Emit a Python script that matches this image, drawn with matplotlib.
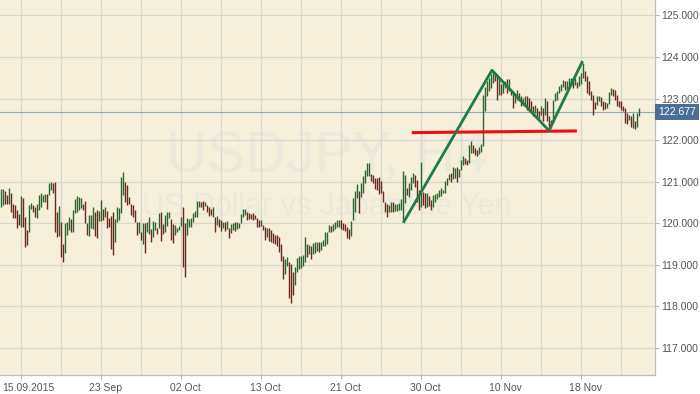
import numpy as np
import matplotlib.pyplot as plt
import matplotlib.transforms as mtransforms

# H4 bars (high / low per bar)
highs = [
    120.82, 120.82, 120.78, 120.68, 120.85, 120.73, 120.47, 120.44, 120.31, 120.22,
    120.66, 120.62, 120.16, 119.84, 120.43, 120.49, 120.44, 120.40, 120.46, 120.69,
    120.73, 120.69, 120.70, 120.71, 120.97, 120.99, 120.98, 120.99, 120.26, 120.42,
    120.02, 119.51, 120.01, 120.03, 120.16, 120.10, 120.31, 120.59, 120.65, 120.63,
    120.60, 120.46, 120.54, 120.01, 120.19, 120.19, 120.39, 120.28, 120.32, 120.30,
    120.56, 120.34, 120.39, 120.29, 120.13, 120.18, 120.27, 120.11, 120.39, 120.37,
    121.12, 121.23, 120.99, 120.93, 120.63, 120.47, 120.43, 120.31, 120.03, 120.04,
    119.78, 120.01, 120.01, 120.04, 120.16, 119.87, 120.05, 120.04, 119.89, 120.25,
    120.26, 119.99, 120.19, 120.27, 120.27, 120.11, 119.98, 119.96, 119.89, 119.94,
    120.16, 120.39, 120.01, 120.13, 120.10, 120.12, 120.24, 120.30, 120.54, 120.54,
    120.50, 120.53, 120.51, 120.43, 120.39, 120.35, 120.39, 120.16, 120.17, 120.10,
    120.07, 120.04, 120.02, 120.05, 119.89, 119.99, 120.00, 120.02, 120.03, 120.00,
    120.23, 120.35, 120.34, 120.26, 120.24, 120.22, 120.24, 120.20, 120.13, 120.07,
    120.09, 119.96, 119.90, 119.88, 119.88, 119.84, 119.77, 119.73, 119.73, 119.66,
    119.50, 119.22, 119.15, 119.18, 119.07, 119.02, 118.82, 118.95, 119.17, 119.21,
    119.21, 119.23, 119.67, 119.51, 119.48, 119.45, 119.53, 119.54, 119.56, 119.56,
    119.55, 119.59, 119.80, 119.78, 119.96, 119.94, 119.99, 120.04, 120.09, 120.08,
    120.08, 120.00, 119.98, 119.92, 119.86, 120.06, 120.60, 120.77, 120.94, 120.78,
    120.97, 121.14, 121.27, 121.46, 121.46, 121.18, 121.16, 121.08, 121.10, 121.12,
    121.01, 120.78, 120.52, 120.47, 120.43, 120.52, 120.50, 120.46, 120.46, 120.48,
    120.58, 121.26, 121.16, 120.84, 120.96, 121.12, 121.20, 121.16, 121.04, 120.80,
    121.48, 120.76, 120.72, 120.74, 120.66, 120.56, 120.68, 120.70, 120.74, 120.80,
    120.84, 120.80, 121.02, 121.10, 121.18, 121.22, 121.36, 121.34, 121.36, 121.30,
    121.52, 121.62, 121.56, 121.52, 121.88, 121.98, 121.88, 121.80, 121.76, 121.84,
    121.90, 123.09, 123.27, 123.42, 123.50, 123.58, 123.68, 123.62, 123.58, 123.46,
    123.34, 123.38, 123.42, 123.46, 123.47, 123.21, 123.17, 123.09, 123.21, 123.13,
    123.05, 123.01, 123.05, 123.05, 123.01, 122.93, 122.81, 122.85, 122.77, 122.69,
    122.81, 122.77, 123.01, 122.93, 122.57, 122.49, 122.97, 123.13, 123.17, 123.30,
    123.36, 123.44, 123.42, 123.42, 123.50, 123.50, 123.46, 123.50, 123.40, 123.54,
    123.62, 123.85, 123.66, 123.54, 123.42, 123.17, 123.09, 122.91, 123.05, 123.05,
    123.03, 122.93, 122.91, 122.89, 123.15, 123.25, 123.24, 123.21, 123.09, 122.93,
    122.95, 122.81, 122.78, 122.66, 122.61, 122.57, 122.65, 122.46, 122.65, 122.77,
]
lows = [
    120.39, 120.43, 120.46, 120.47, 120.47, 120.28, 120.12, 120.13, 119.88, 119.95,
    119.92, 119.92, 119.42, 119.47, 119.78, 120.34, 120.27, 120.16, 120.12, 120.33,
    120.39, 120.52, 120.51, 120.35, 120.69, 120.79, 120.74, 119.80, 119.66, 119.70,
    119.18, 119.08, 119.28, 119.72, 119.84, 119.78, 119.78, 120.25, 120.26, 120.31,
    120.37, 120.33, 120.01, 119.71, 119.70, 119.88, 119.86, 119.70, 119.65, 120.06,
    120.06, 120.09, 120.16, 119.88, 119.92, 119.39, 119.23, 119.54, 120.04, 120.07,
    120.24, 120.69, 120.52, 120.44, 120.47, 120.20, 120.16, 120.02, 119.72, 119.76,
    119.60, 119.51, 119.28, 119.78, 119.75, 119.54, 119.68, 119.83, 119.75, 119.88,
    119.57, 119.75, 119.80, 119.93, 120.12, 119.61, 119.52, 119.72, 119.80, 119.84,
    119.94, 118.96, 118.70, 119.73, 119.90, 119.92, 120.02, 120.16, 120.16, 120.40,
    120.40, 120.32, 120.41, 120.26, 120.18, 120.20, 120.16, 119.78, 119.96, 119.91,
    119.82, 119.88, 119.82, 119.87, 119.64, 119.76, 119.84, 119.81, 119.86, 119.89,
    120.00, 120.16, 120.20, 120.09, 120.10, 120.11, 120.08, 120.11, 119.90, 119.91,
    119.94, 119.83, 119.61, 119.67, 119.57, 119.56, 119.52, 119.50, 119.45, 119.30,
    119.09, 118.66, 118.78, 118.97, 118.21, 118.08, 118.27, 118.52, 118.83, 118.90,
    118.93, 118.98, 119.06, 119.19, 119.26, 119.13, 119.26, 119.29, 119.33, 119.31,
    119.36, 119.45, 119.45, 119.51, 119.80, 119.80, 119.81, 119.87, 119.91, 119.92,
    119.87, 119.84, 119.82, 119.64, 119.62, 119.70, 120.07, 120.27, 120.62, 120.24,
    120.64, 120.72, 120.96, 121.14, 121.14, 121.02, 120.98, 120.82, 120.79, 120.71,
    120.74, 120.50, 120.28, 120.16, 120.26, 120.28, 120.26, 120.30, 120.30, 120.32,
    120.32, 120.08, 120.48, 120.68, 120.64, 120.80, 120.96, 120.88, 120.52, 120.32,
    120.40, 120.44, 120.36, 120.38, 120.42, 120.32, 120.40, 120.52, 120.58, 120.64,
    120.66, 120.74, 120.74, 120.92, 121.04, 121.00, 121.06, 121.10, 121.00, 121.12,
    121.28, 121.40, 121.42, 121.40, 121.44, 121.68, 121.68, 121.64, 121.62, 121.66,
    121.72, 121.86, 122.69, 123.05, 123.17, 123.25, 123.38, 123.42, 122.97, 123.09,
    123.09, 123.13, 123.25, 123.13, 123.17, 123.09, 122.77, 122.89, 122.97, 122.93,
    122.81, 122.85, 122.81, 122.73, 122.69, 122.65, 122.57, 122.65, 122.53, 122.53,
    122.61, 122.45, 122.61, 122.45, 122.24, 122.28, 122.40, 122.93, 122.97, 123.13,
    123.19, 123.27, 123.21, 123.21, 123.25, 123.30, 123.25, 123.32, 123.25, 123.30,
    123.35, 123.50, 123.42, 123.13, 123.09, 122.97, 122.61, 122.75, 122.85, 122.93,
    122.81, 122.73, 122.74, 122.77, 122.87, 123.09, 123.05, 122.97, 122.81, 122.79,
    122.73, 122.69, 122.40, 122.38, 122.49, 122.32, 122.30, 122.26, 122.32, 122.57,
]

date_labels = ['15.09.2015', '23 Sep', '02 Oct', '13 Oct', '21 Oct', '30 Oct', '10 Nov', '18 Nov']
label_bars = [10, 50, 90, 130, 170, 210, 250, 290]
price_ticks = [117, 118, 119, 120, 121, 122, 123, 124, 125]
last_price = 122.677

# drawn objects: green zigzag and red level
zigzag_bars = [201.3, 245.3, 273.8, 290.3]
zigzag_prices = [120.04, 123.68, 122.23, 123.87]
level_bars = [206, 287]
level_prices = [122.18, 122.22]

plt.rcParams['font.family'] = ['Liberation Sans', 'DejaVu Sans']

h = np.array(highs)
l = np.array(lows)
idx = np.arange(len(h))
mid = (h + l) / 2
up = np.r_[True, mid[1:] >= mid[:-1]]
colors = np.where(up, '#2c662e', '#6b2a1f')

fig = plt.figure(figsize=(7, 3.94), dpi=100)
ax = fig.add_axes([0, 19 / 394, 655 / 700, 375 / 394])
ax.set_facecolor('#f5efdc')
ax.set_xlim(-0.67, 326.83)
ax.set_ylim(116.353, 125.368)

# watermark
ax.text(0.499, 0.581, 'USDJPY, H4', transform=ax.transAxes, ha='center', va='center',
        fontsize=41, color='#ebe8dc', zorder=0.2)
ax.text(0.498, 0.448, 'US Dollar vs Japanese Yen', transform=ax.transAxes, ha='center',
        va='center', fontsize=22, color='#ebe8dc', zorder=0.2)

ax.vlines(idx, l, h, colors=colors, linewidth=1.0, zorder=2)

ax.axhline(last_price, color='#93a9c0', lw=0.8, zorder=1.5)
ax.plot(level_bars, level_prices, color='#f20d0d', lw=2.2, zorder=3)
ax.plot(zigzag_bars, zigzag_prices, color='#1f7a4c', lw=2.0, zorder=3)

# grid / ticks
ax.set_axisbelow(True)
ax.set_xticks(label_bars)
ax.set_xticklabels(date_labels)
ax.set_xticks([b + 20 for b in label_bars], minor=True)
ax.set_yticks(price_ticks)
ax.set_yticklabels(['%.3f' % p for p in price_ticks])
ax.grid(True, which='both', color='#d8d6d0', lw=0.9)
ax.yaxis.tick_right()
ax.tick_params(axis='both', which='major', direction='out', length=3, width=0.8,
               color='#b5b5b5', labelcolor='#555555', labelsize=7.5)
ax.tick_params(axis='y', pad=1.5)
ax.tick_params(axis='x', pad=3)
ax.tick_params(axis='x', which='minor', length=0)

for i, t in enumerate(ax.get_xticklabels()):
    dx = 4 / 100
    if i == 0:
        t.set_ha('left')
        dx = -19 / 100
    t.set_transform(t.get_transform() + mtransforms.ScaledTranslation(dx, 0, fig.dpi_scale_trans))

for s in ['top', 'left']:
    ax.spines[s].set_visible(False)
for s in ['right', 'bottom']:
    ax.spines[s].set_color('#bdbdbd')
    ax.spines[s].set_linewidth(0.9)

trans = mtransforms.blended_transform_factory(ax.transAxes, ax.transData)
ax.text(1.0055, last_price, '%.3f' % last_price, transform=trans, ha='left', va='center',
        fontsize=7.5, color='white', clip_on=False, zorder=5,
        bbox=dict(boxstyle='square,pad=0.3', fc='#4c6e94', ec='none'))

fig.savefig('out.png', dpi=100, facecolor='white')
